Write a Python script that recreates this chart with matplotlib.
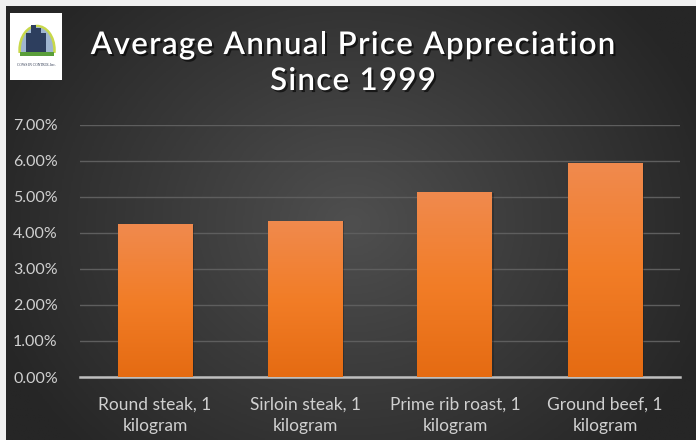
import numpy as np
import matplotlib
matplotlib.use("Agg")
import matplotlib.pyplot as plt
from matplotlib.patches import Rectangle, Ellipse
from matplotlib.colors import LinearSegmentedColormap
import matplotlib.patheffects as pe

categories = ["Round steak, 1\nkilogram", "Sirloin steak, 1\nkilogram",
              "Prime rib roast, 1\nkilogram", "Ground beef, 1\nkilogram"]
values = [4.24, 4.34, 5.13, 5.94]
yticks = [0, 1, 2, 3, 4, 5, 6, 7]
ytick_labels = ["0.00%", "1.00%", "2.00%", "3.00%", "4.00%", "5.00%", "6.00%", "7.00%"]
title_lines = ["Average Annual Price Appreciation", "Since 1999"]

W, H = 696, 440
fig = plt.figure(figsize=(W / 100, H / 100), dpi=100)
fig.patch.set_facecolor("#f0f0f0")

# background panel with radial gradient
bg = fig.add_axes([6 / W, 0, 1 - 6 / W, 1 - 6 / H])
bg.set_axis_off()
ny, nx = 200, 320
yy, xx = np.mgrid[0:ny, 0:nx]
cx, cy = nx * 0.5, ny * 0.5
r = np.sqrt(((xx - cx) / (nx * 0.55)) ** 2 + ((yy - cy) / (ny * 0.75)) ** 2)
r = np.clip(r, 0, 1)
bgcmap = LinearSegmentedColormap.from_list("bg", ["#4f4f4f", "#3a3a3a", "#262626"])
bg.imshow(r, cmap=bgcmap, aspect="auto", extent=[0, 1, 0, 1], vmin=0, vmax=1)
bg.set_xlim(0, 1)
bg.set_ylim(0, 1)

# plot axes
left, right = 80, 680
top, bottom = 125, 377
ax = fig.add_axes([left / W, 1 - bottom / H, (right - left) / W, (bottom - top) / H])
ax.set_facecolor("none")
for s in ["top", "right", "left"]:
    ax.spines[s].set_visible(False)
ax.spines["bottom"].set_color("#bfbfbf")
ax.spines["bottom"].set_linewidth(1.8)
ax.set_yticks(yticks)
ax.set_yticklabels(ytick_labels)
ax.set_xticks(range(len(categories)))
ax.set_xticklabels(categories, linespacing=1.45)
ax.tick_params(axis="both", length=0, colors="#d0d0d0")
ax.tick_params(axis="y", pad=16, labelsize=11.5)
ax.tick_params(axis="x", pad=14, labelsize=12.5)
for lab in ax.get_xticklabels() + ax.get_yticklabels():
    lab.set_family("Lato")
    lab.set_color("#d0d0d0")
ax.grid(axis="y", color="#5e5e5e", linewidth=1.0)
ax.set_axisbelow(True)

barcmap = LinearSegmentedColormap.from_list("bar", ["#e56b12", "#f27d27", "#f08a4e"])
grad = np.linspace(0, 1, 256).reshape(-1, 1)
bars = ax.bar(range(len(values)), values, width=0.5, color="none", edgecolor="none", zorder=3)
for b in bars:
    x0, y0, w, h = b.get_x(), b.get_y(), b.get_width(), b.get_height()
    sh = Rectangle((x0 + 0.012, y0), w, h - 0.02, facecolor="#1a1a1a", alpha=0.35, zorder=2.5)
    ax.add_patch(sh)
    im = ax.imshow(grad, cmap=barcmap, aspect="auto", extent=[x0, x0 + w, y0, y0 + h],
                   origin="lower", zorder=3)
    im.set_clip_path(b)
ax.set_xlim(-0.5, len(values) - 0.5)
ax.set_ylim(0, 7)

# title with letter spacing
renderer = fig.canvas.get_renderer()
shadow = [pe.withSimplePatchShadow(offset=(1.5, -1.5), shadow_rgbFace="black", alpha=0.6)]
tprops = dict(color="white", fontsize=22.5, family="Lato", fontweight="semibold")


def width_px(s):
    if not s:
        return 0.0
    t = fig.text(0, 0, s.replace(" ", "\u00a0"), **tprops)
    wdt = t.get_window_extent(renderer).width
    t.remove()
    return wdt


def spaced_text(s, xc, yc, spacing):
    total = width_px(s) + spacing * (len(s) - 1)
    x0 = xc - total / 2
    for i, ch in enumerate(s):
        if ch == " ":
            continue
        xi = x0 + width_px(s[:i]) + spacing * i
        fig.text(xi / W, 1 - yc / H, ch, ha="left", va="center", path_effects=shadow, **tprops)


spaced_text(title_lines[0], 353, 45, 1.3)
spaced_text(title_lines[1], 353, 81, 1.3)

# logo box
lg = fig.add_axes([10 / W, 1 - 80 / H, 52 / W, 67 / H])
lg.set_xlim(0, 1)
lg.set_ylim(0, 1)
lg.set_facecolor("white")
for s in lg.spines.values():
    s.set_visible(False)
lg.set_xticks([])
lg.set_yticks([])
lg.add_patch(Ellipse((0.52, 0.45), 0.72, 0.75, facecolor="#c8d84a", edgecolor="none"))
lg.add_patch(Ellipse((0.52, 0.45), 0.62, 0.68, facecolor="#9fb5d0", edgecolor="none"))
lg.add_patch(Rectangle((0.1, 0.0), 0.85, 0.4, facecolor="white", edgecolor="none"))
for cxp, hh in [(0.35, 0.3), (0.45, 0.42), (0.55, 0.38), (0.65, 0.3)]:
    lg.add_patch(Rectangle((cxp - 0.05, 0.4), 0.1, hh, facecolor="#2d3e5e", edgecolor="none"))
lg.add_patch(Rectangle((0.2, 0.36), 0.65, 0.06, facecolor="#5a9e3a", edgecolor="none"))
lg.text(0.5, 0.22, "COWS IN CONTROL Inc.", ha="center", va="center", fontsize=2.6,
        family="Liberation Serif", color="#1f2a44")

fig.savefig("out.png", dpi=100, facecolor=fig.get_facecolor())
